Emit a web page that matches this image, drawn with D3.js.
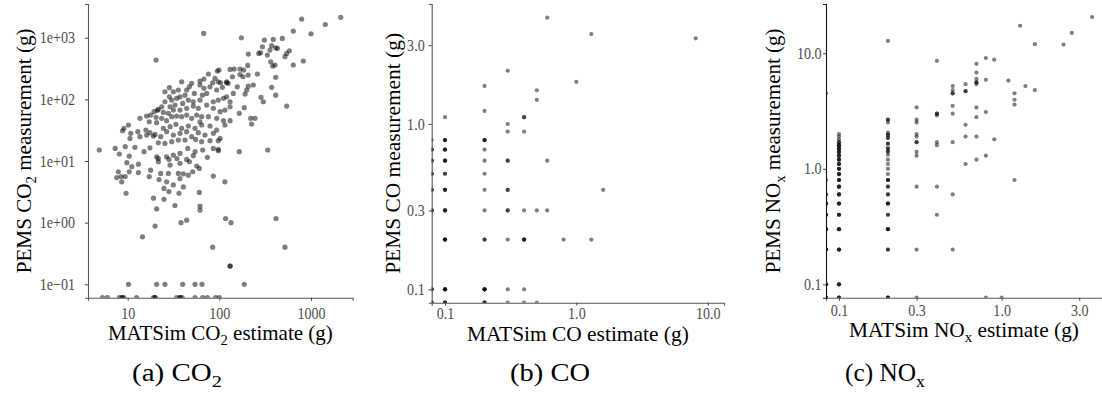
<!DOCTYPE html>
<html><head><meta charset="utf-8">
<script src="https://cdn.jsdelivr.net/npm/d3@7"></script>
<style>
body{margin:0;background:#fff}
svg{display:block}
</style>
</head><body>
<svg id="chart" width="1102" height="401"></svg>
<script>
// ---------- DATA (MATSim estimate, PEMS measurement), grams; 0 = zero reading ----------
const co2Pairs = [
[2110,2140],[791,2010],[1432,1640],[641,1280],[67.5,1176],[1000,1161],[174,1000],[487,975],[388,939],[310,917],
[372,742],[295,714],[412,688],[430,671],[207,543],[269,557],[282,571],[357,631],[334,524],[581,615],
[543,557],[520,492],[20.4,434],[824,419],[641,361],[382,347],[363,408],[405,361],[204,356],[168,310],
[184,299],[145,310],[131,306],[99.1,299],[95.1,288],[75.9,258],[68.0,214],[61.5,198],[89.7,219],[97.5,193],
[120,193],[125,182],[103,186],[139,233],[206,248],[260,258],[412,228],[120,186],[84.6,186],[79.1,160],
[68.0,151],[61.5,171],[49.9,182],[47.1,160],[38.8,193],[44.0,142],[35.7,142],[31.5,133],[28.5,155],[25.5,133],
[28.5,110],[37.2,110],[30.2,97.5],[34.2,104],[42.2,117],[53.4,125],[65.3,117],[72.8,125],[93.5,142],[108,157],
[157,160],[199,142],[207,164],[235,171],[191,122],[372,157],[285,108],[302,91.6],[412,117],[543,78.0],
[142,125],[120,110],[131,91.6],[111,104],[97.5,97.5],[86.0,91.6],[61.5,97.5],[52.0,91.6],[45.9,97.5],[39.8,86.1],
[32.8,80.9],[29.0,76.0],[25.5,91.6],[23.5,76.0],[21.6,68.9],[21.1,66.4],[19.4,63.1],[17.8,55.7],[16.1,53.7],[20.4,51.1],
[24.5,61.5],[27.8,59.3],[31.5,67.1],[37.2,67.1],[44.0,71.5],[52.0,78.0],[59.0,71.5],[72.8,80.9],[86.0,71.5],[102,63.1],
[115,67.1],[131,76.0],[187,73.3],[165,59.3],[220,49.2],[245,49.2],[225,39.8],[13.6,49.2],[17.2,43.4],[20.7,41.9],
[23.5,49.2],[26.6,45.1],[30.2,52.4],[34.2,53.7],[38.8,52.4],[44.0,55.7],[49.9,49.2],[56.6,55.7],[64.1,52.4],[75.9,52.4],
[93.5,49.2],[111,45.1],[131,45.1],[61.5,43.4],[10.2,38.4],[9.1,33.9],[8.8,31.0],[10.8,28.1],[12.9,29.9],[15.8,31.8],
[17.5,28.8],[19.9,27.0],[24.5,33.9],[29.0,36.1],[33.6,39.4],[38.8,33.9],[45.9,37.0],[54.3,33.9],[64.1,38.4],[79.1,37.0],
[93.5,31.8],[115,38.4],[13.6,24.8],[16.1,26.4],[19.1,25.4],[22.9,24.8],[26.6,29.9],[31.5,26.4],[37.2,28.1],[44.0,29.9],
[49.9,24.8],[59.0,28.8],[69.8,26.4],[86.0,28.1],[102,23.3],[10.6,23.3],[21.6,19.8],[25.5,19.3],[30.2,20.6],[35.7,21.9],
[42.2,21.9],[55.2,22.4],[64.1,20.6],[79.1,21.4],[97.5,21.4],[7.3,16.0],[9.4,17.1],[12.0,16.7],[15.1,14.2],[17.5,16.4],
[20.7,11.7],[26.6,11.7],[31.5,12.5],[37.2,13.3],[45.2,16.0],[54.3,14.2],[65.8,15.1],[86.0,16.0],[97.5,15.5],[4.9,15.1],
[8.1,13.0],[10.4,12.0],[165,14.2],[337,15.1],[21.6,11.0],[28.2,10.6],[34.5,11.0],[44.0,10.6],[52.0,12.2],[74.0,11.5],
[97.5,14.7],[9.8,9.4],[13.1,8.9],[11.1,8.1],[17.8,7.1],[21.6,9.75],[29.0,8.6],[37.2,9.2],[47.1,9.75],[56.6,8.3],
[60.5,7.6],[7.9,6.7],[10.4,6.7],[13.1,6.5],[22.9,6.3],[27.8,6.3],[35.7,6.3],[40.5,6.2],[45.9,5.9],[51.2,6.7],
[86.0,5.7],[115,4.6],[7.6,5.4],[8.5,5.6],[9.4,5.6],[8.6,4.6],[17.2,5.6],[22.0,5.0],[26.6,4.6],[31.5,4.1],
[37.2,5.2],[40.5,3.8],[9.6,3.0],[24.9,3.6],[28.2,3.2],[36.3,3.0],[60.5,3.1],[19.1,2.5],[24.9,2.4],[32.8,1.9],
[61.5,1.86],[61.5,1.6],[20.7,1.67],[117,1.17],[134,1.0],[44.0,1.1],[38.2,1.0],[415,1.17],[19.9,0.88],[14.5,0.59],
[84.6,0.40],[520,0.40],[131,0.198],[131,0.198],[187,0.1],[10.2,0.1],[20.7,0.1],[25.5,0.1],[39.8,0.1],[54.3,0.1],[64.7,0.1],
[168,253],[181,233],
[5.3,0],[6.0,0],[8.1,0],[8.7,0],[8.7,0],[9.1,0],[12.5,0],[19.1,0],[19.9,0],[19.9,0],[34.2,0],[37.2,0],[37.2,0],[39.2,0],
[54.3,0],[65.8,0],[74.0,0],[91.2,0],[100,0]
];

const coPairs = [
[0,0.8],[0,0.7],[0,0.7],[0,0.7],[0,0.6],[0,0.6],[0,0.6],[0,0.5],[0,0.5],[0,0.5],[0,0.4],[0,0.4],[0,0.4],
[0,0.3],[0,0.3],[0,0.3],[0,0.1],[0,0.1],[0,0.1],[0,0],[0,0],[0,0],
[0.1,1.1],[0.1,0.8],[0.1,0.8],[0.1,0.8],[0.1,0.7],[0.1,0.7],[0.1,0.7],[0.1,0.6],[0.1,0.6],[0.1,0.6],
[0.1,0.5],[0.1,0.5],[0.1,0.4],[0.1,0.4],[0.1,0.4],[0.1,0.3],[0.1,0.3],[0.1,0.3],[0.1,0.2],[0.1,0.2],[0.1,0.2],[0.1,0.2],
[0.1,0.1],[0.1,0.1],[0.1,0.1],[0.1,0.1],[0.1,0],[0.1,0],[0.1,0],
[0.2,1.7],[0.2,1.2],[0.2,0.8],[0.2,0.8],[0.2,0.8],[0.2,0.7],[0.2,0.6],[0.2,0.5],[0.2,0.4],[0.2,0.3],
[0.2,0.2],[0.2,0.2],[0.2,0.1],[0.2,0.1],[0.2,0.1],[0.2,0.1],[0.2,0],[0.2,0],[0.2,0],
[0.3,2.1],[0.3,1.0],[0.3,0.9],[0.3,0.6],[0.3,0.6],[0.3,0.4],[0.3,0.4],[0.3,0.3],[0.3,0.3],[0.3,0.2],[0.3,0.1],[0.3,0],
[0.4,1.1],[0.4,1.1],[0.4,0.9],[0.4,0.3],[0.4,0.2],[0.4,0.2],[0.4,0.2],[0.4,0.1],[0.4,0],
[0.5,1.6],[0.5,1.4],[0.5,0.3],[0.5,0],
[0.6,4.4],[0.6,0.6],[0.6,0.3],
[0.8,0.2],[1.0,1.8],[1.3,3.5],[1.3,0.2],[1.6,0.4],[8.1,3.3]
];

const noxPairs = [
[0,4.5],[0,0.8],[0,0.6],[0,0.6],[0,0.5],[0,0.5],[0,0.5],[0,0.4],[0,0.4],[0,0.4],[0,0.3],[0,0.3],[0,0.3],
[0,0.2],[0,0.2],[0,0.2],[0,0.1],[0,0.1],[0,0.1],[0,0],[0,0],[0,0],
[0.1,2.0],[0.1,1.9],[0.1,1.8],[0.1,1.7],[0.1,1.7],[0.1,1.6],[0.1,1.6],[0.1,1.6],[0.1,1.5],[0.1,1.5],[0.1,1.5],
[0.1,1.4],[0.1,1.4],[0.1,1.4],[0.1,1.3],[0.1,1.3],[0.1,1.3],[0.1,1.2],[0.1,1.2],[0.1,1.2],[0.1,1.1],[0.1,1.1],[0.1,1.1],
[0.1,1.0],[0.1,1.0],[0.1,1.0],[0.1,0.9],[0.1,0.9],[0.1,0.9],[0.1,0.8],[0.1,0.8],[0.1,0.8],[0.1,0.7],[0.1,0.7],[0.1,0.7],
[0.1,0.6],[0.1,0.6],[0.1,0.6],[0.1,0.5],[0.1,0.5],[0.1,0.5],[0.1,0.4],[0.1,0.4],[0.1,0.4],[0.1,0.3],[0.1,0.3],[0.1,0.3],
[0.1,0.2],[0.1,0.2],[0.1,0.2],[0.1,0.1],[0.1,0.1],[0.1,0.1],[0.1,0],[0.1,0],[0.1,0],
[0.2,12.8],[0.2,2.66],[0.2,2.66],[0.2,2.52],[0.2,2.06],[0.2,1.97],[0.2,1.97],[0.2,1.85],[0.2,1.85],[0.2,1.65],[0.2,1.65],
[0.2,1.5],[0.2,1.5],[0.2,1.41],[0.2,1.41],[0.2,1.32],[0.2,1.2],[0.2,1.1],[0.2,1.0],[0.2,0.9],[0.2,0.8],[0.2,0.8],[0.2,0.8],
[0.2,0.7],[0.2,0.7],[0.2,0.6],[0.2,0.6],[0.2,0.5],[0.2,0.5],[0.2,0.5],[0.2,0.4],[0.2,0.4],[0.2,0.3],[0.2,0.3],[0.2,0.3],
[0.2,0.2],[0.2,0.2],[0.2,0],[0.2,0],[0.2,0],
[0.3,3.4],[0.3,2.66],[0.3,2.52],[0.3,2.0],[0.3,1.9],[0.3,1.7],[0.3,1.7],[0.3,1.4],[0.3,1.3],[0.3,0.7],[0.3,0.2],[0.3,0],
[0.4,8.6],[0.4,3.0],[0.4,3.0],[0.4,2.9],[0.4,1.7],[0.4,1.6],[0.4,0.7],[0.4,0.4],
[0.5,5.2],[0.5,4.8],[0.5,4.5],[0.5,4.5],[0.5,3.5],[0.5,3.0],[0.5,1.7],[0.5,0.6],[0.5,0.2],
[0.6,5.4],[0.6,4.7],[0.6,4.7],[0.6,2.4],[0.6,1.9],[0.6,1.1],
[0.7,8.1],[0.7,6.8],[0.7,6.0],[0.7,5.6],[0.7,5.6],[0.7,5.4],[0.7,3.4],[0.7,2.8],[0.7,1.9],[0.7,1.2],
[0.8,9.1],[0.8,5.9],[0.8,3.1],[0.8,1.3],[0.8,0],
[0.9,8.8],[0.9,1.8],[1.0,0],[1.1,5.8],
[1.2,4.5],[1.2,3.96],[1.2,3.6],[1.2,0.8],[1.3,17.3],[1.4,5.2],[1.6,12.0],[1.6,4.8],[2.4,11.9],[2.7,15.0],[3.6,20.6]
];

// ---------- TICKS ----------
const co2XTicks = [10, 100, 1000];
const co2XLabels = ["10", "100", "1000"];
const co2YTicks = [0.1, 1, 10, 100, 1000];
const co2YLabels = ["1e\u221201", "1e+00", "1e+01", "1e+02", "1e+03"];
const coXTicks = [0.1, 1, 10];
const coXLabels = ["0.1", "1.0", "10.0"];
const coYTicks = [0.1, 0.3, 1, 3];
const coYLabels = ["0.1", "0.3", "1.0", "3.0"];
const noxXTicks = [0.1, 0.3, 1, 3];
const noxXLabels = ["0.1", "0.3", "1.0", "3.0"];
const noxYTicks = [0.1, 1, 10];
const noxYLabels = ["0.1", "1.0", "10.0"];

// ---------- TEXT ----------
const titlesY = [[["PEMS CO",0],["2",1],[" measurement (g)",0]], [["PEMS CO measurement (g)",0]], [["PEMS NO",0],["x",1],[" measurement (g)",0]]];
const titlesX = [[["MATSim CO",0],["2",1],[" estimate (g)",0]], [["MATSim CO estimate (g)",0]], [["MATSim NO",0],["x",1],[" estimate (g)",0]]];
const captions = [[["(a) CO",0],["2",1]], [["(b) CO",0]], [["(c) NO",0],["x",1]]];

const FONT = "'Liberation Serif','DejaVu Serif','Noto Serif','Times New Roman',serif";
const TICK_SIZE = 16, TICK_SQUEEZE = 0.88;

// ---------- LAYOUT ----------
const svg = d3.select("#chart");
const panels = [
  {pts: co2Pairs, xt: co2XTicks, xl: co2XLabels, yt: co2YTicks, yl: co2YLabels,
   xd: [3.69, 2851], yd: [0.0607, 3524], L: 88, R: 352.7, T: 4, B: 297.7, r: 2.6,
   xPad: 7, yPad: 10, yTitleX: 31, xTitleY: 340, capX: 177, yTW: 245, xTW: 225, capW: 90,
   yAxisCol: "#555", xAxisCol: "#555"},
  {pts: coPairs, xt: coXTicks, xl: coXLabels, yt: coYTicks, yl: coYLabels,
   xd: [0.0792, 13.3], yd: [0.083, 5.32], L: 431.7, R: 724, T: 4, B: 302.7, r: 2.1,
   xPad: 2, yPad: 4, yTitleX: 400, xTitleY: 341, capX: 550, yTW: 241, xTW: 222, capW: 80,
   yAxisCol: "#555", xAxisCol: "#555"},
  {pts: noxPairs, xt: noxXTicks, xl: noxXLabels, yt: noxYTicks, yl: noxYLabels,
   xd: [0.0832, 4.14], yd: [0.0766, 26.7], L: 826, R: 1102, T: 4, B: 297.7, r: 2.1,
   xPad: 4, yPad: 1.5, yTitleX: 780, xTitleY: 337, capX: 885, yTW: 245, xTW: 230, capW: 80,
   yAxisCol: "#111", xAxisCol: "#555"}
];

function richText(sel, parts, size) {
  parts.forEach(([s, sub], i) => {
    const t = sel.append("tspan").text(s);
    if (sub) t.attr("font-size", size * 0.7).attr("dy", size * 0.22);
    else if (i > 0 && parts[i - 1][1]) t.attr("dy", -size * 0.22);
  });
}

// text centred at (cx, cy), optionally rotated, stretched to the reference width
function fittedText(cx, cy, rot, parts, size, width) {
  const g = svg.append("g");
  const t = g.append("text").attr("text-anchor", "middle").attr("font-size", size)
    .attr("fill", "#000").style("font-family", FONT);
  richText(t, parts, size);
  const w = t.node().getComputedTextLength();
  const k = w > 0 ? width / w : 1;
  g.attr("transform", `translate(${cx},${cy}) rotate(${rot}) scale(${k},1)`);
}

panels.forEach((p, i) => {
  const x = d3.scaleLog().domain(p.xd).range([p.L, p.R]);
  const y = d3.scaleLog().domain(p.yd).range([p.B, p.T]);
  const clipId = "clip" + i;
  svg.append("clipPath").attr("id", clipId).append("rect")
    .attr("x", p.L).attr("y", p.T).attr("width", p.R - p.L).attr("height", p.B - p.T);

  const px = v => x(Math.max(v, x.domain()[0]));
  const py = v => y(Math.max(v, y.domain()[0]));

  svg.append("g").attr("clip-path", `url(#${clipId})`)
    .selectAll("circle").data(p.pts).join("circle")
    .attr("cx", d => px(d[0])).attr("cy", d => py(d[1]))
    .attr("r", p.r).attr("fill", "#000").attr("fill-opacity", 0.5);

  const ax = svg.append("g").attr("transform", `translate(0,${p.B})`)
    .call(d3.axisBottom(x).tickValues(p.xt).tickFormat((d, k) => p.xl[k]).tickSizeOuter(0).tickSize(3).tickPadding(p.xPad));
  const ay = svg.append("g").attr("transform", `translate(${p.L},0)`)
    .call(d3.axisLeft(y).tickValues(p.yt).tickFormat((d, k) => p.yl[k]).tickSizeOuter(0).tickSize(3).tickPadding(p.yPad));
  ax.select(".domain").attr("stroke", p.xAxisCol).attr("stroke-width", 1.1);
  ay.select(".domain").attr("stroke", p.yAxisCol).attr("stroke-width", 1.1);
  [ax, ay].forEach(a => {
    a.attr("font-family", null);
    a.selectAll(".tick line").attr("stroke", "#444");
    a.selectAll(".tick text").attr("fill", "#4d4d4d").attr("font-size", TICK_SIZE)
      .style("font-family", FONT);
  });
  // narrow the tick labels horizontally (keeping their anchor positions)
  ay.selectAll(".tick text").each(function () {
    const t = d3.select(this);
    const x0 = +t.attr("x");
    t.attr("x", x0 / TICK_SQUEEZE).attr("transform", `scale(${TICK_SQUEEZE},1)`);
  });
  ax.selectAll(".tick text").attr("transform", `scale(${TICK_SQUEEZE},1)`);

  fittedText(p.yTitleX, (p.T + p.B) / 2, -90, titlesY[i], 21, p.yTW);
  fittedText((p.L + p.R) / 2, p.xTitleY, 0, titlesX[i], 21, p.xTW);
  fittedText(p.capX, 381, 0, captions[i], 25, p.capW);
});
</script>
</body></html>
